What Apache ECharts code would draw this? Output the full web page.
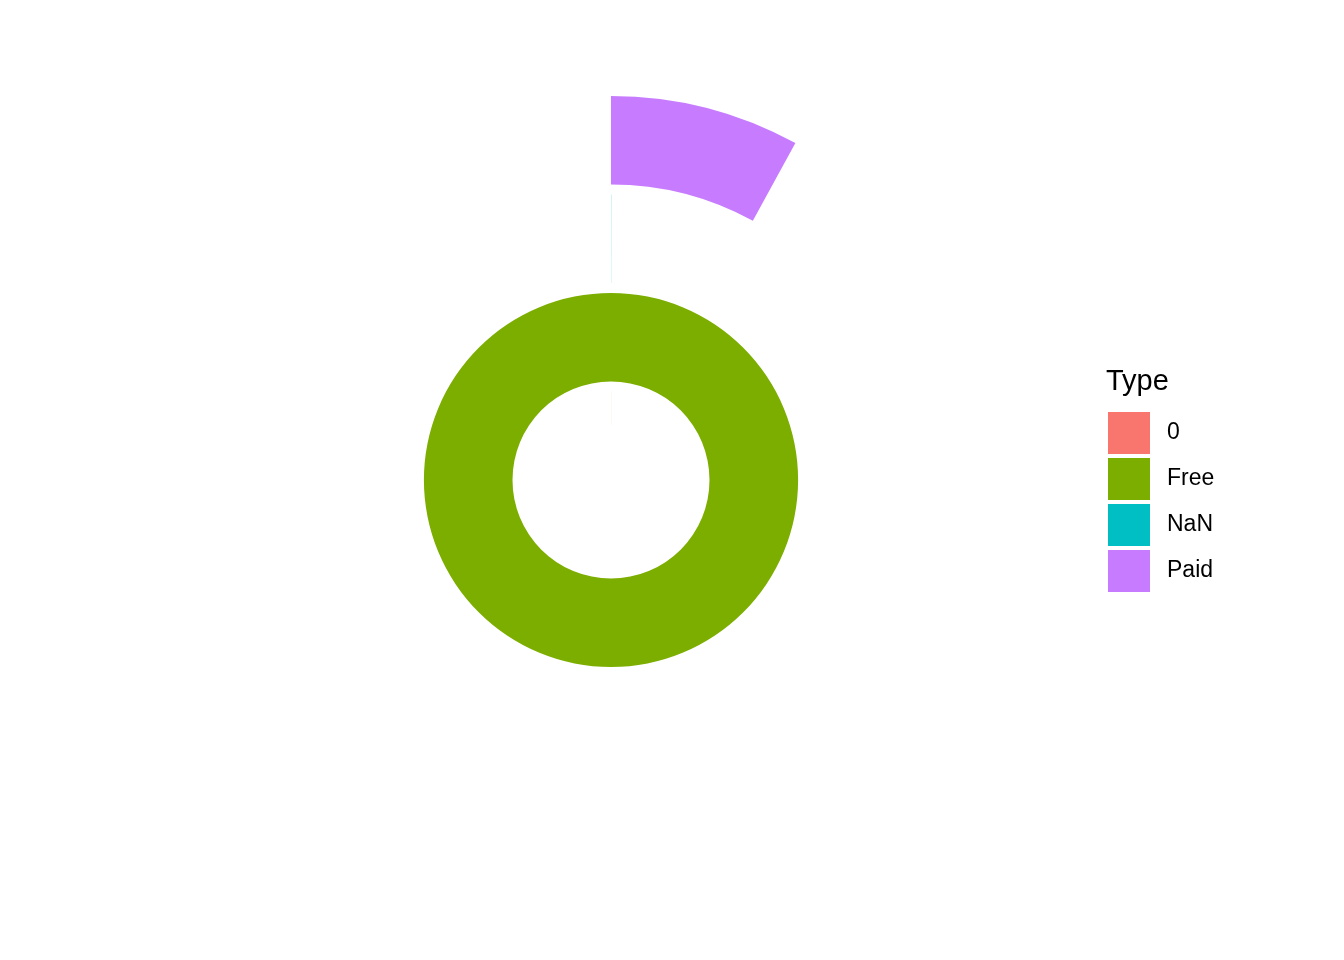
<!DOCTYPE html>
<html>
<head>
<meta charset="utf-8">
<script src="https://cdn.jsdelivr.net/npm/echarts@6/dist/echarts.min.js"></script>
<style>html,body{margin:0;padding:0;background:#fff;}#c{width:1344px;height:960px;}</style>
</head>
<body>
<div id="c"></div>
<script>
const categories = ['0', 'Free', 'NaN', 'Paid'];
const counts = [1, 10039, 1, 800];
const colors = ['#F8766D', '#7CAE00', '#00BFC4', '#C77CFF'];
const legendTitle = 'Type';

const chart = echarts.init(document.getElementById('c'), null, {renderer: 'canvas'});
const series = categories.map((c, i) => ({
  type: 'bar',
  name: c,
  coordinateSystem: 'polar',
  stack: 'main',
  barWidth: 88.6,
  barGap: 0,
  itemStyle: {color: colors[i]},
  data: categories.map((cc, j) => (j === i ? counts[j] : '-')),
  silent: true,
  animation: false
}));
// spacer series (invisible) used only to offset bar positions radially
series.push({
  type: 'bar',
  name: '_spacer',
  coordinateSystem: 'polar',
  stack: 'spacer',
  barWidth: 10.4,
  barGap: 0,
  itemStyle: {color: 'rgba(0,0,0,0)'},
  data: categories.map(() => '-'),
  silent: true,
  animation: false
});

chart.setOption({
  backgroundColor: '#ffffff',
  animation: false,
  polar: {center: [611, 480], radius: [0, 394]},
  angleAxis: {
    type: 'value', min: 0, max: Math.max(...counts), startAngle: 90, clockwise: true,
    axisLine: {show: false}, axisTick: {show: false}, axisLabel: {show: false}, splitLine: {show: false}
  },
  radiusAxis: {
    type: 'category', data: categories,
    axisLine: {show: false}, axisTick: {show: false}, axisLabel: {show: false}, splitLine: {show: false}
  },
  legend: {
    data: categories,
    orient: 'vertical',
    left: 1103,
    top: 407,
    itemWidth: 42,
    itemHeight: 42,
    itemGap: 4,
    icon: 'rect',
    selectedMode: false,
    textStyle: {fontFamily: 'Liberation Sans, Arial, sans-serif', fontSize: 23, color: '#000', padding: [4, 0, 0, 12]}
  },
  graphic: [{
    type: 'text',
    left: 1106,
    top: 367,
    style: {text: legendTitle, fontFamily: 'Liberation Sans, Arial, sans-serif', fontSize: 29, fill: '#000'}
  }],
  series: series
});
</script>
</body>
</html>
